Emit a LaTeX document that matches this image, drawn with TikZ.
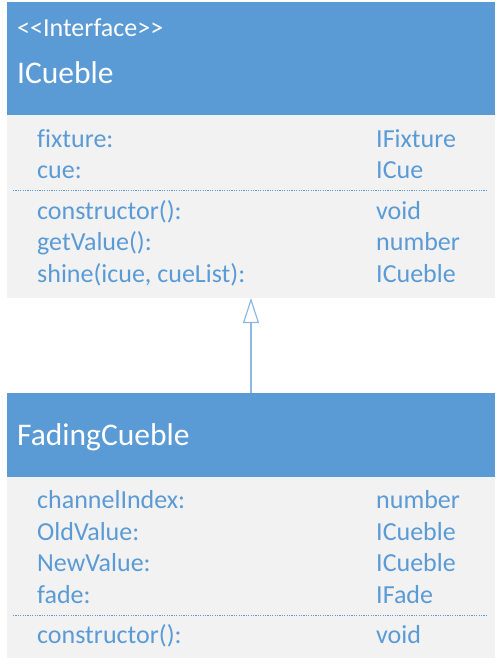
\documentclass[tikz,border=0pt]{standalone}
\usepackage{fontspec}
\setmainfont{Carlito}[Ligatures=NoCommon]
\usetikzlibrary{arrows.meta}
\definecolor{umlblue}{HTML}{5B9BD5}
\definecolor{umlgray}{HTML}{F2F2F2}
\definecolor{linkblue}{HTML}{8DB8E2}
\tikzset{
  hdr/.style={fill=umlblue, draw=none},
  bodybox/.style={fill=umlgray, draw=none},
  stereo/.style={anchor=base west, inner sep=0pt, text=white, font=\fontsize{26}{30}\selectfont},
  cname/.style={anchor=base west, inner sep=0pt, text=white, font=\fontsize{31.5}{36}\selectfont},
  member/.style={anchor=base west, inner sep=0pt, text=umlblue, font=\fontsize{26}{30}\selectfont},
  sep/.style={umlblue, line width=1pt, dotted, dash pattern=on 1.2pt off 1.2pt},
  realize/.style={linkblue, line width=1.2pt, {Triangle[open, length=25pt, width=16pt, fill=white]}-}
}
\begin{document}
\begin{tikzpicture}[x=1pt, y=-1pt]
\useasboundingbox (0,0) rectangle (497,665);
\fill[white] (0,0) rectangle (497,665);

% interface ICueble
\fill[hdr] (7,2) rectangle (495,115);
\fill[bodybox] (7,115) rectangle (495,298);
\node[stereo] (istereo) at (17,36) {{<}{<}Interface{>}{>}};
\node[cname] (iname) at (17,83) {ICueble};
\node[member] (ia1) at (37,147) {fixture:};
\node[member] (ia1t) at (376,147) {IFixture};
\node[member] (ia2) at (37,178) {cue:};
\node[member] (ia2t) at (376,178) {ICue};
\draw[sep] (13,190.5) -- (488,190.5);
\node[member] (im1) at (37,219) {constructor():};
\node[member] (im1t) at (376,219) {void};
\node[member] (im2) at (37,250) {getValue():};
\node[member] (im2t) at (376,250) {number};
\node[member] (im3) at (37,282) {shine(icue, cueList):};
\node[member] (im3t) at (376,282) {ICueble};
\coordinate (itop) at (251,298);

% class FadingCueble
\fill[hdr] (7,393) rectangle (495,477);
\fill[bodybox] (7,477) rectangle (495,658);
\node[cname] (fname) at (17,445) {FadingCueble};
\node[member] (fa1) at (37,508) {channelIndex:};
\node[member] (fa1t) at (376,508) {number};
\node[member] (fa2) at (37,540) {OldValue:};
\node[member] (fa2t) at (376,540) {ICueble};
\node[member] (fa3) at (37,571) {NewValue:};
\node[member] (fa3t) at (376,571) {ICueble};
\node[member] (fa4) at (37,603) {fade:};
\node[member] (fa4t) at (376,603) {IFade};
\draw[sep] (13,615.5) -- (488,615.5);
\node[member] (fm1) at (37,643) {constructor():};
\node[member] (fm1t) at (376,643) {void};
\coordinate (ftop) at (251,393);

% realization arrow
\draw[realize] (itop) -- (ftop);
\end{tikzpicture}
\end{document}
